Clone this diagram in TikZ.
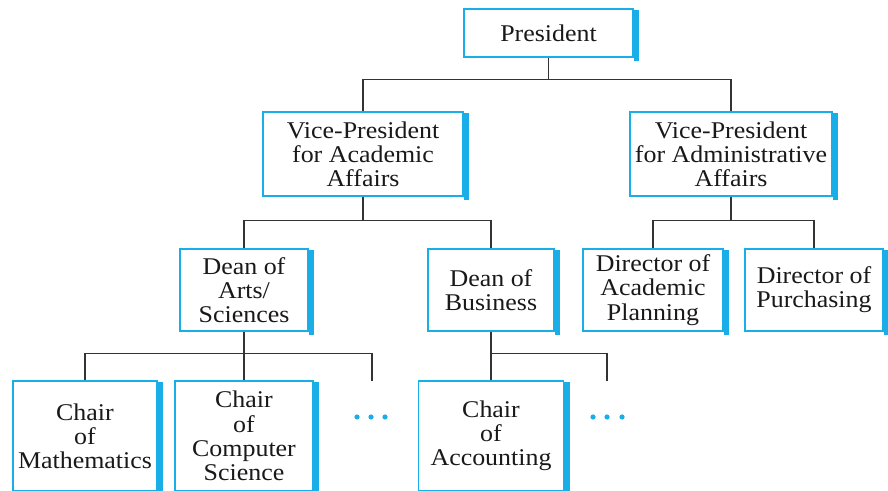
\documentclass[tikz,border=0pt]{standalone}
\usepackage{fontspec}
\setmainfont{Liberation Serif}[FakeStretch=1.08]
\definecolor{boxcyan}{HTML}{1AAEE8}
\definecolor{linegray}{HTML}{333333}
\begin{document}
\begin{tikzpicture}[x=0.5pt, y=-0.5pt,
		unit/.style={draw=boxcyan, line width=0.6pt, fill=white, align=center,
			inner sep=0pt, text=black!90, font=\fontsize{12}{12.1}\selectfont},
		link/.style={draw=linegray, line width=0.6pt},
		bar/.style={fill=boxcyan}]
	\useasboundingbox (0,0) rectangle (888,491);

	% Уровень 1
	\node[unit, minimum width=84.5pt, minimum height=24pt] (pres) at (548.5,33) {President};

	% Уровень 2
	\node[unit, minimum width=100pt, minimum height=42pt] (vpa) at (363,154)
		{Vice-President\\for Academic\\Affairs};
	\node[unit, minimum width=101pt, minimum height=42pt] (vpb) at (731,154)
		{Vice-President\\for Administrative\\Affairs};

	% Уровень 3
	\node[unit, minimum width=64pt, minimum height=41pt] (deana) at (244,290)
		{Dean of\\Arts/\\Sciences};
	\node[unit, minimum width=63pt, minimum height=41pt] (deanb) at (491,290)
		{Dean of\\Business};
	\node[unit, minimum width=70pt, minimum height=41pt] (dira) at (653,290)
		{Director of\\Academic\\Planning};
	\node[unit, minimum width=69pt, minimum height=41pt] (dirb) at (814,290)
		{Director of\\Purchasing};

	% Уровень 4
	\node[unit, minimum width=72pt, minimum height=55pt] (chm) at (85,436)
		{Chair\\of\\Mathematics};
	\node[unit, minimum width=69pt, minimum height=55pt] (chcs) at (244,436)
		{Chair\\of\\Computer\\Science};
	\node[unit, minimum width=72.5pt, minimum height=55pt] (chac) at (491,436)
		{Chair\\of\\Accounting};

	% Тени справа
	\foreach \n in {pres,vpa,vpb,deana,deanb,dira,dirb,chm,chcs,chac}
		\fill[bar] ([yshift=-1pt]\n.north east) rectangle ([xshift=2.8pt,yshift=-1.5pt]\n.south east);

	% Свободные концы
	\coordinate (morea) at (372,381);
	\coordinate (moreb) at (607,381);

	% Связи
	\draw[link] (pres.south) -- ++(0,22) coordinate (jp);
	\draw[link] (vpa.north) |- (jp) -| (vpb.north);
	\draw[link] (vpa.south) -- ++(0,24) coordinate (ja);
	\draw[link] (deana.north) |- (ja) -| (deanb.north);
	\draw[link] (vpb.south) -- ++(0,24) coordinate (jb);
	\draw[link] (dira.north) |- (jb) -| (dirb.north);
	\draw[link] (deana.south) -- (chcs.north);
	\draw[link] (chm.north) -- ++(0,-27) -| (morea);
	\draw[link] (deanb.south) -- (chac.north);
	\draw[link] (chac.north) -- ++(0,-27) -| (moreb);

	% Многоточия
	\foreach \x in {357,371,385,593,607,622}
		\fill[boxcyan] (\x,417) circle (1.3pt);
\end{tikzpicture}
\end{document}
